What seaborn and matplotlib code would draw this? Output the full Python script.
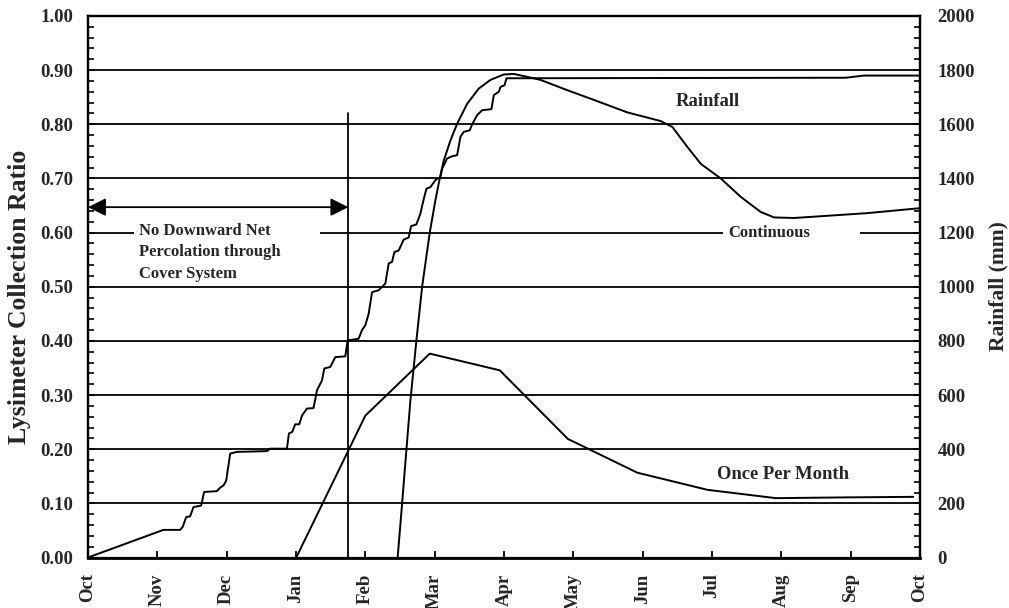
import numpy as np
import pandas as pd
import matplotlib
matplotlib.use("Agg")
import matplotlib.pyplot as plt
from matplotlib.patches import Rectangle
from matplotlib.ticker import MultipleLocator
import seaborn as sns

# Month positions are measured in months from 1 October (0 = Oct, 12 = next Oct)
month_labels = ["Oct", "Nov", "Dec", "Jan", "Feb", "Mar", "Apr",
                "May", "Jun", "Jul", "Aug", "Sep", "Oct"]

# Cumulative rainfall (mm), right axis
rain_month = [0, 1.087, 1.329, 1.368, 1.415, 1.473, 1.521, 1.632, 1.675, 1.858,
              1.906, 1.954, 1.993, 2.051, 2.147, 2.581, 2.628, 2.869, 2.898, 2.946,
              2.989, 3.047, 3.086, 3.158, 3.253, 3.303, 3.375, 3.408, 3.495, 3.567,
              3.711, 3.744, 3.903, 3.952, 4.0, 4.048, 4.097, 4.192, 4.241, 4.289,
              4.337, 4.386, 4.419, 4.481, 4.553, 4.625, 4.66, 4.736, 4.794, 4.833,
              4.881, 4.939, 5.011, 5.083, 5.108, 5.18, 5.252, 5.324, 5.372, 5.419,
              5.506, 5.541, 5.613, 5.685, 5.819, 5.853, 5.925, 5.949, 6.007, 6.036,
              10.931, 11.191, 11.99]
rain_mm = [0, 102, 102, 114, 149, 152, 186, 192, 242, 245,
           258, 266, 284, 384, 390, 393, 402, 402, 458, 464,
           492, 492, 524, 550, 552, 618, 654, 698, 704, 740,
           743, 802, 808, 840, 858, 900, 980, 987, 999, 1012,
           1086, 1092, 1128, 1134, 1174, 1182, 1224, 1230, 1270, 1314,
           1362, 1368, 1394, 1406, 1436, 1474, 1482, 1486, 1554, 1572,
           1578, 1600, 1634, 1652, 1656, 1708, 1720, 1738, 1744, 1770,
           1772, 1780, 1780]

# Lysimeter collection ratio, continuous sampling
cont_month = [4.466, 4.53, 4.592, 4.65, 4.736, 4.819, 4.929, 5.011, 5.073, 5.131,
              5.227, 5.324, 5.469, 5.636, 5.805, 5.997, 6.141, 6.358, 6.527, 6.913,
              7.297, 7.779, 8.26, 8.429, 8.646, 8.838, 9.126, 9.415, 9.704, 9.896,
              10.185, 10.426, 11.245, 11.99]
cont_ratio = [0.0, 0.099, 0.198, 0.29, 0.40, 0.50, 0.60, 0.66, 0.70, 0.733,
              0.77, 0.801, 0.838, 0.866, 0.882, 0.892, 0.893, 0.887, 0.882, 0.863,
              0.845, 0.822, 0.806, 0.795, 0.758, 0.727, 0.70, 0.666, 0.638, 0.628,
              0.627, 0.629, 0.636, 0.645]

# Lysimeter collection ratio, sampled once per month
monthly_month = [3.004, 4.0, 4.929, 5.939, 6.921, 7.923, 8.934, 9.921, 10.91, 11.903]
monthly_ratio = [0.0, 0.262, 0.3765, 0.3457, 0.219, 0.1566, 0.125, 0.1096, 0.111, 0.112]

# End of the period without downward net percolation
no_perc_end = 3.755

rain_df = pd.DataFrame({"month": rain_month, "mm": rain_mm})
cont_df = pd.DataFrame({"month": cont_month, "ratio": cont_ratio})
monthly_df = pd.DataFrame({"month": monthly_month, "ratio": monthly_ratio})

sns.set_theme(style="white")
plt.rcParams["font.family"] = ["Liberation Serif", "DejaVu Serif"]
plt.rcParams["font.weight"] = "bold"

W, H = 1009, 608
fig = plt.figure(figsize=(W / 100, H / 100), dpi=100)
ax = fig.add_axes([88 / W, 1 - 557.5 / H, (920 - 88) / W, (557.5 - 16) / H])
ax2 = ax.twinx()

lw = 1.4
sns.lineplot(data=cont_df, x="month", y="ratio", ax=ax, color="black", lw=lw,
             sort=False, estimator=None, zorder=3)
sns.lineplot(data=monthly_df, x="month", y="ratio", ax=ax, color="black", lw=lw,
             sort=False, estimator=None, zorder=3)
sns.lineplot(data=rain_df, x="month", y="mm", ax=ax2, color="black", lw=lw,
             sort=False, estimator=None, zorder=3)

ax.set_xlim(0, 12)
ax.set_ylim(0, 1.0)
ax2.set_ylim(0, 2000)

ax.set_xticks(range(13))
ax.set_xticklabels(month_labels, rotation=90, fontsize=13.5, fontweight="bold")
ax.yaxis.set_major_locator(MultipleLocator(0.1))
ax.yaxis.set_minor_locator(MultipleLocator(0.02))
ax.set_yticklabels([f"{v:.2f}" for v in ax.get_yticks()], fontsize=13.5,
                   fontweight="bold")
ax2.yaxis.set_major_locator(MultipleLocator(200))
ax2.yaxis.set_minor_locator(MultipleLocator(40))
ax2.set_yticklabels([f"{int(v)}" for v in ax2.get_yticks()], fontsize=13.5,
                    fontweight="bold")

ax.grid(axis="y", which="major", color="black", lw=1.3)
ax.set_axisbelow(True)

ax.tick_params(axis="x", which="major", direction="in", length=5, width=1.3,
               color="black", pad=11.5, bottom=True)
ax.tick_params(axis="y", which="both", direction="in", color="black", width=1.2,
               pad=10.5, left=True)
ax.tick_params(axis="y", which="major", length=5)
ax.tick_params(axis="y", which="minor", length=4.3)
ax2.tick_params(axis="y", which="both", direction="in", color="black", width=1.2,
                pad=12.5, right=True)
ax2.tick_params(axis="y", which="major", length=5)
ax2.tick_params(axis="y", which="minor", length=4.3)

for a in (ax, ax2):
    for s in a.spines.values():
        s.set_visible(True)
        s.set_color("black")
        s.set_linewidth(1.6)
ax.spines["bottom"].set_linewidth(2.0)

ax.set_xlabel("")
ax.set_ylabel("")
ax2.set_xlabel("")
ax2.set_ylabel("")
fig.text(19.5 / W, 1 - 297 / H, "Lysimeter Collection Ratio", rotation=90,
         ha="center", va="center", fontsize=18.5, fontweight="bold")
fig.text(998 / W, 1 - 286 / H, "Rainfall (mm)", rotation=90,
         ha="center", va="center", fontsize=15.5, fontweight="bold")

# Boundary of the no-percolation period
ax.plot([no_perc_end, no_perc_end], [0, 0.82], color="black", lw=1.3, zorder=3)
ax.annotate("", xy=(0.0, 0.647), xytext=(no_perc_end, 0.647),
            arrowprops=dict(arrowstyle="<|-|>", color="black", lw=1.3,
                            mutation_scale=27, shrinkA=0, shrinkB=0),
            zorder=4)

# White backing behind the in-plot labels sitting on the 0.60 line
ax.add_patch(Rectangle((0.664, 0.585), 3.35 - 0.664, 0.03, facecolor="white",
                       edgecolor="none", zorder=1.5))
ax.add_patch(Rectangle((9.165, 0.585), 11.13 - 9.165, 0.03, facecolor="white",
                       edgecolor="none", zorder=1.5))

for line, yb in zip(["No Downward Net", "Percolation through", "Cover System"],
                    [0.595, 0.556, 0.517]):
    ax.text(0.737, yb, line, ha="left", va="baseline", fontsize=12,
            fontweight="bold", zorder=4)
ax.text(9.82, 0.592, "Continuous", ha="center", va="baseline", fontsize=12,
        fontweight="bold", zorder=4)
ax.text(8.94, 0.834, "Rainfall", ha="center", va="baseline", fontsize=13.4,
        fontweight="bold", zorder=4)
ax.text(10.02, 0.145, "Once Per Month", ha="center", va="baseline", fontsize=13.4,
        fontweight="bold", zorder=4)

fig.savefig("out.png", dpi=100, facecolor="white")
